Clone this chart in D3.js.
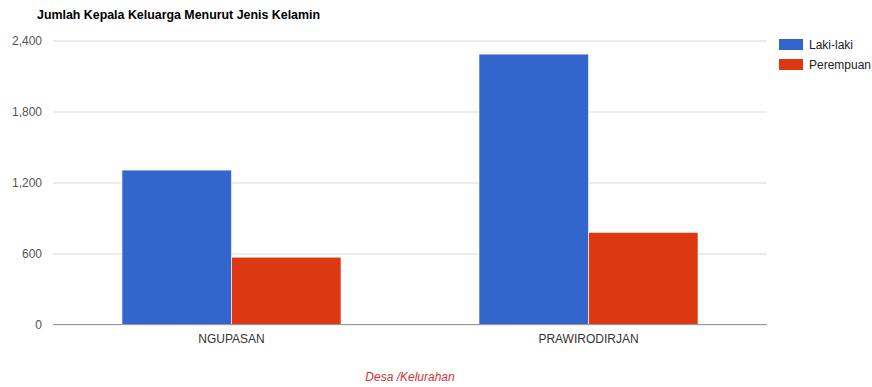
<!DOCTYPE html>
<meta charset="utf-8">
<style>
body { margin: 0; background: #fff; }
svg { font-family: Arial, "Liberation Sans", sans-serif; }
.grid line { stroke: #d9d9d9; }
.grid path { display: none; }
.axis--y path, .axis--y line { display: none; }
.axis--x path, .axis--x line { display: none; }
</style>
<svg width="872" height="387"></svg>
<script src="https://d3js.org/d3.v7.min.js"></script>
<script>

// values
var categories = ["NGUPASAN", "PRAWIRODIRJAN"];
var seriesNames = ["Laki-laki", "Perempuan"];
var lakiLaki = [1305, 2285];
var perempuan = [569, 779];
var yTicks = [0, 600, 1200, 1800, 2400];

var colours = ["#3366cc", "#dc3912"];

var svg = d3.select("svg"),
    margin = {top: 40.5, right: 105, bottom: 62.5, left: 53},
    width = +svg.attr("width") - margin.left - margin.right,
    height = +svg.attr("height") - margin.top - margin.bottom;

var g = svg.append("g")
    .attr("transform", "translate(" + margin.left + "," + margin.top + ")");

var x0 = d3.scaleBand().domain(categories).range([0, width]).padding(0);
var x1 = d3.scaleBand().domain(seriesNames).range([0, x0.bandwidth()])
    .paddingInner(0).paddingOuter(0.63);
var y = d3.scaleLinear().domain([0, 2400]).range([height, 0]);

var z = d3.scaleOrdinal().domain(seriesNames).range(colours);

var rows = categories.map(function(c, i) {
  return {cat: c, values: [
    {key: seriesNames[0], value: lakiLaki[i]},
    {key: seriesNames[1], value: perempuan[i]}
  ]};
});

// gridlines
g.append("g")
    .attr("class", "grid")
    .call(d3.axisLeft(y).tickValues(yTicks).tickSize(-width).tickFormat(""));

// y labels
g.append("g")
    .attr("class", "axis axis--y")
    .call(d3.axisLeft(y).tickValues(yTicks).tickSize(0).tickPadding(11)
      .tickFormat(d3.format(",")))
  .selectAll("text")
    .attr("fill", "#555")
    .attr("font-size", 12);

// bars
g.append("g").selectAll("g")
  .data(rows)
  .enter().append("g")
    .attr("transform", function(d) { return "translate(" + x0(d.cat) + ",0)"; })
  .selectAll("rect")
  .data(function(d) { return d.values; })
  .enter().append("rect")
    .attr("x", function(d) { return x1(d.key); })
    .attr("y", function(d) { return y(d.value); })
    .attr("width", x1.bandwidth())
    .attr("height", function(d) { return height - y(d.value); })
    .attr("fill", function(d) { return z(d.key); })
    .attr("stroke", "#fff")
    .attr("stroke-width", 0.6);

// baseline
g.append("line")
    .attr("x1", 0).attr("x2", width)
    .attr("y1", y(0)).attr("y2", y(0))
    .attr("stroke", "#999")
    .attr("stroke-width", 1.2);

// x labels
g.append("g")
    .attr("class", "axis axis--x")
    .attr("transform", "translate(0," + height + ")")
    .call(d3.axisBottom(x0).tickSize(0).tickPadding(10))
  .selectAll("text")
    .attr("fill", "#333")
    .attr("font-size", 12);

// x-axis title
svg.append("text")
    .attr("x", margin.left + width / 2)
    .attr("y", 381)
    .attr("text-anchor", "middle")
    .attr("font-size", 12)
    .attr("font-style", "italic")
    .attr("fill", "#cc3333")
    .text("Desa /Kelurahan");

// chart title
svg.append("text")
    .attr("x", 37)
    .attr("y", 19)
    .attr("font-size", 12.4)
    .attr("font-weight", "bold")
    .attr("fill", "#000")
    .text("Jumlah Kepala Keluarga Menurut Jenis Kelamin");

// legend
var legend = svg.append("g")
    .attr("font-size", 12)
  .selectAll("g")
  .data(seriesNames)
  .enter().append("g")
    .attr("transform", function(d, i) { return "translate(779," + (39 + i * 20) + ")"; });

legend.append("rect")
    .attr("width", 24)
    .attr("height", 11)
    .attr("fill", z);

legend.append("text")
    .attr("x", 30)
    .attr("y", 10)
    .attr("fill", "#222")
    .text(function(d) { return d; });

</script>
